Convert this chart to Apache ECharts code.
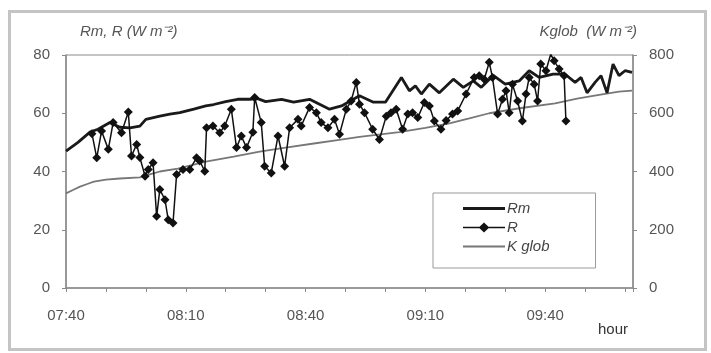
<!DOCTYPE html>
<html>
<head>
<meta charset="utf-8">
<script src="https://cdn.jsdelivr.net/npm/echarts@6/dist/echarts.min.js"></script>
<style>
html,body{margin:0;padding:0;background:#fff;}
#chart{width:711px;height:353px;}
</style>
</head>
<body>
<div id="chart"></div>
<script>
// minutes after 07:40
var xTickLabels = ['07:40', '08:10', '08:40', '09:10', '09:40'];
var leftTicks = [0, 20, 40, 60, 80];
var rightTicks = [0, 200, 400, 600, 800];

var rmTimes = [0, 3, 6, 8, 11, 13.5, 16, 18.5, 20, 23.5, 26, 28.5, 32, 35, 37, 40, 43, 46, 48, 50, 54, 57, 61, 66, 69, 73.5, 77, 80, 84, 86, 87.5, 89, 91, 93.5, 97, 99.5, 102, 104, 107, 110, 113.5, 116, 118.5, 122, 125, 127.5, 129, 130.5, 132.5, 134, 135.5, 137, 138.5, 140, 141.75];
var rmValues = [47, 50, 53.5, 54.5, 56.8, 55.2, 55, 55.6, 57.9, 59, 59.7, 60.2, 61.4, 62.5, 63, 64, 64.8, 64.8, 65, 64, 64.8, 63.8, 64.8, 61.4, 62.5, 66, 63.8, 63.8, 72.3, 67.7, 69.4, 66.6, 70, 67, 71.7, 68.9, 71.1, 68.9, 73, 70, 71.1, 74.6, 72.3, 73.4, 73.4, 70.6, 72.3, 67, 70.6, 72.9, 67, 76.9, 72.9, 74.6, 74];

var rTimes = [6.5, 7.7, 8.9, 10.6, 11.8, 13.9, 15.6, 16.4, 17.7, 18.5, 19.8, 20.6, 21.8, 22.7, 23.5, 24.8, 25.6, 26.8, 27.7, 29.3, 31, 32.7, 33.5, 34.75, 35.2, 36.8, 38.5, 39.75, 41.4, 42.7, 43.9, 45.2, 46.8, 47.25, 48.9, 49.75, 51.4, 53.1, 54.75, 56, 58.1, 58.9, 61, 62.7, 63.9, 65.6, 67.25, 68.5, 70.2, 71.4, 72.7, 73.5, 74.75, 76.8, 78.5, 80.2, 81.4, 82.7, 84.3, 85.6, 86.8, 88.1, 89.75, 91, 92.25, 93.9, 95.2, 96.8, 98.1, 100.2, 102.25, 103.5, 104.75, 106, 106.8, 108.1, 109.3, 110.2, 111, 111.8, 113.1, 114.3, 115.2, 116, 117.25, 118.1, 118.9, 120.2, 121.4, 122.25, 123.5, 124.75, 125.2];
var rValues = [53, 44.7, 53.9, 47.6, 56.8, 53.3, 60.4, 45.3, 49.3, 44.8, 38.4, 40.7, 43, 24.6, 33.8, 30.3, 23.4, 22.3, 39, 40.7, 40.7, 44.7, 43.6, 40.1, 55, 55.6, 53.3, 55.6, 61.4, 48.2, 52.2, 48.2, 53.5, 65.4, 56.8, 41.8, 39.5, 52.2, 41.8, 55, 57.9, 55.6, 62, 60.2, 56.8, 55, 57.9, 52.8, 61.4, 64.2, 70.6, 63.1, 60.2, 54.5, 51, 59, 60.2, 61.4, 54.5, 59.7, 60.2, 58.5, 63.7, 62.5, 57.3, 54.5, 57.5, 59.7, 60.8, 66.6, 72.3, 72.9, 71.7, 77.5, 72.3, 59.7, 64.8, 67.7, 60.2, 70, 64.2, 57.3, 66.6, 72.3, 70, 64.2, 76.9, 74.6, 80.3, 78, 75.2, 72.9, 57.3];

var kTimes = [0, 2, 3.5, 5.5, 7, 10, 13.5, 18.5, 21, 23.5, 28, 35, 42, 48.5, 55, 62.5, 68, 73.5, 83.5, 90, 96, 101, 106, 114, 122.5, 128, 133.5, 138.5, 141.75];
var kValues = [325, 338, 348, 358, 365, 372, 376, 380, 390, 400, 410, 434, 451, 468, 482, 497, 508, 519, 535, 550, 565, 582, 600, 618, 634, 650, 663, 674, 678];

function zip(a, b) { return a.map(function (t, i) { return [t, b[i]]; }); }

var FONT = '"Liberation Sans", Arial, sans-serif';
var ICON_THICK = 'path://M0,0 L42,0 L42,3 L0,3 Z';
var ICON_THIN = 'path://M0,0 L42,0 L42,2 L0,2 Z';
var ICON_MARK = 'path://M0,4.3 L16.5,4.3 L21,0 L25.5,4.3 L42,4.3 L42,5.7 L25.5,5.7 L21,10 L16.5,5.7 L0,5.7 Z';

var chart = echarts.init(document.getElementById('chart'), null, {renderer: 'canvas'});
chart.setOption({
  animation: false,
  backgroundColor: '#fff',
  grid: {left: 66, right: 78, top: 55, bottom: 65, show: true, borderColor: '#8a8a8a', borderWidth: 1, backgroundColor: 'transparent'},
  xAxis: {
    type: 'value', min: 0, max: 142, interval: 10,
    axisLine: {onZero: false, lineStyle: {color: '#8a8a8a', width: 1.5}},
    axisTick: {show: true, length: 4, lineStyle: {color: '#8a8a8a'}},
    splitLine: {show: false},
    axisLabel: {
      margin: 20, color: '#555', fontSize: 15, fontFamily: FONT,
      formatter: function (v) { return (v % 30 === 0 && xTickLabels[v / 30]) ? xTickLabels[v / 30] : ''; }
    }
  },
  yAxis: [{
    type: 'value', min: leftTicks[0], max: leftTicks[leftTicks.length - 1], interval: 20, position: 'left',
    axisLine: {show: true, lineStyle: {color: '#8a8a8a', width: 1.5}},
    axisTick: {show: true, length: 4, lineStyle: {color: '#8a8a8a'}},
    splitLine: {show: false},
    axisLabel: {margin: 16, color: '#555', fontSize: 15, fontFamily: FONT}
  }, {
    type: 'value', min: rightTicks[0], max: rightTicks[rightTicks.length - 1], interval: 200, position: 'right',
    axisLine: {show: true, lineStyle: {color: '#8a8a8a', width: 1.5}},
    axisTick: {show: true, length: 4, lineStyle: {color: '#8a8a8a'}},
    splitLine: {show: false},
    axisLabel: {margin: 16, color: '#555', fontSize: 15, fontFamily: FONT}
  }],
  legend: {
    left: 433, top: 193, orient: 'vertical',
    padding: [8, 46, 14, 30], itemGap: 4, itemWidth: 42, itemHeight: 14,
    borderColor: '#999', borderWidth: 1, backgroundColor: '#fff',
    textStyle: {fontSize: 15, fontFamily: FONT, color: '#444', fontStyle: 'italic', padding: [0, 0, 0, -3]},
    data: [{name: 'Rm', icon: ICON_THICK}, {name: 'R', icon: ICON_MARK}, {name: 'K glob', icon: ICON_THIN}]
  },
  series: [{
    name: 'K glob', type: 'line', yAxisIndex: 1, data: zip(kTimes, kValues),
    showSymbol: false, symbol: 'none', lineStyle: {color: '#777', width: 1.8}, itemStyle: {color: '#777'}, z: 2
  }, {
    name: 'Rm', type: 'line', yAxisIndex: 0, data: zip(rmTimes, rmValues),
    showSymbol: false, symbol: 'none', lineStyle: {color: '#1a1a1a', width: 2.8}, itemStyle: {color: '#1a1a1a'}, z: 3
  }, {
    name: 'R', type: 'line', yAxisIndex: 0, data: zip(rTimes, rValues),
    symbol: 'diamond', symbolSize: 9, showAllSymbol: true,
    lineStyle: {color: '#111', width: 1.5}, itemStyle: {color: '#111'}, z: 4
  }],
  graphic: [{
    type: 'rect', left: 7, top: 9, shape: {width: 696, height: 338},
    style: {fill: 'none', stroke: '#c4c4c4', lineWidth: 3}, silent: true, z: -1
  }, {
    type: 'text', left: 80, top: 24,
    style: {text: 'Rm, R (W m⁻²)', fontSize: 15, fontStyle: 'italic', fontFamily: FONT, fill: '#555'}
  }, {
    type: 'text', right: 74, top: 24,
    style: {text: 'Kglob  (W m⁻²)', fontSize: 15, fontStyle: 'italic', fontFamily: FONT, fill: '#555'}
  }, {
    type: 'text', left: 598, top: 322,
    style: {text: 'hour', fontSize: 15, fontFamily: FONT, fill: '#333'}
  }]
});
</script>
</body>
</html>
